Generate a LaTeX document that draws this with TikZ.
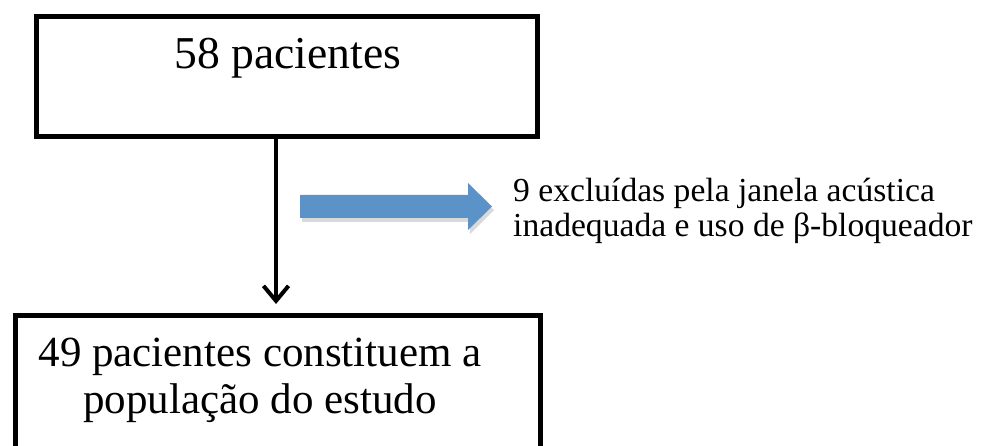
\documentclass[tikz,border=0pt]{standalone}
\usepackage{fontspec}
\setmainfont{Liberation Serif}
\usetikzlibrary{arrows.meta}
\definecolor{arrowblue}{HTML}{5B93C9}
\definecolor{shadowgrey}{HTML}{D9D9D9}
\tikzset{
  flowbox/.style={draw=black, line width=5pt, fill=white, inner sep=0pt},
  toptextstyle/.style={font=\fontsize{45.6}{48}\selectfont, inner sep=0pt, align=center},
  bottomtextstyle/.style={font=\fontsize{43}{47}\selectfont, inner sep=0pt, align=center},
  sidetextstyle/.style={font=\fontsize{33.6}{35}\selectfont, inner sep=0pt, align=left},
  flowarrow/.style={line width=4pt, -{Straight Barb[length=15pt,width=25pt,line width=4pt]}}
}
\begin{document}
\begin{tikzpicture}[x=1pt,y=1pt]
\useasboundingbox (0,0) rectangle (987,446);
% top box
\node[flowbox, minimum width=501pt, minimum height=120pt] (top) at (286.5,369) {};
\node[toptextstyle, anchor=base] (toptext) at (288,377) {58 pacientes};
% bottom box (extends below page)
\node[flowbox, minimum width=525.5pt, minimum height=200pt, anchor=north west] (bottom) at (12.5,133) {};
\node[bottomtextstyle, anchor=base] (bottomtext) at (260,32) {49 pacientes constituem a\\popula\c{c}\~ao do estudo};
% vertical arrow
\coordinate (vstart) at (276,309);
\coordinate (vend) at (276,142);
\draw[flowarrow] (vstart) -- (vend);
% blue block arrow with shadow
\fill[shadowgrey] (302,247) -- (470,247) -- (470,259) -- (494,236) -- (470,212) -- (470,224) -- (302,224) -- cycle;
\fill[arrowblue] (300,251) -- (468,251) -- (468,263) -- (492,239.5) -- (468,216) -- (468,228) -- (300,228) -- cycle;
% side text
\node[sidetextstyle, anchor=base west] (sidetext) at (513,209) {9 exclu\'{\i}das pela janela ac\'ustica\\inadequada e uso de β-bloqueador};
\end{tikzpicture}
\end{document}
